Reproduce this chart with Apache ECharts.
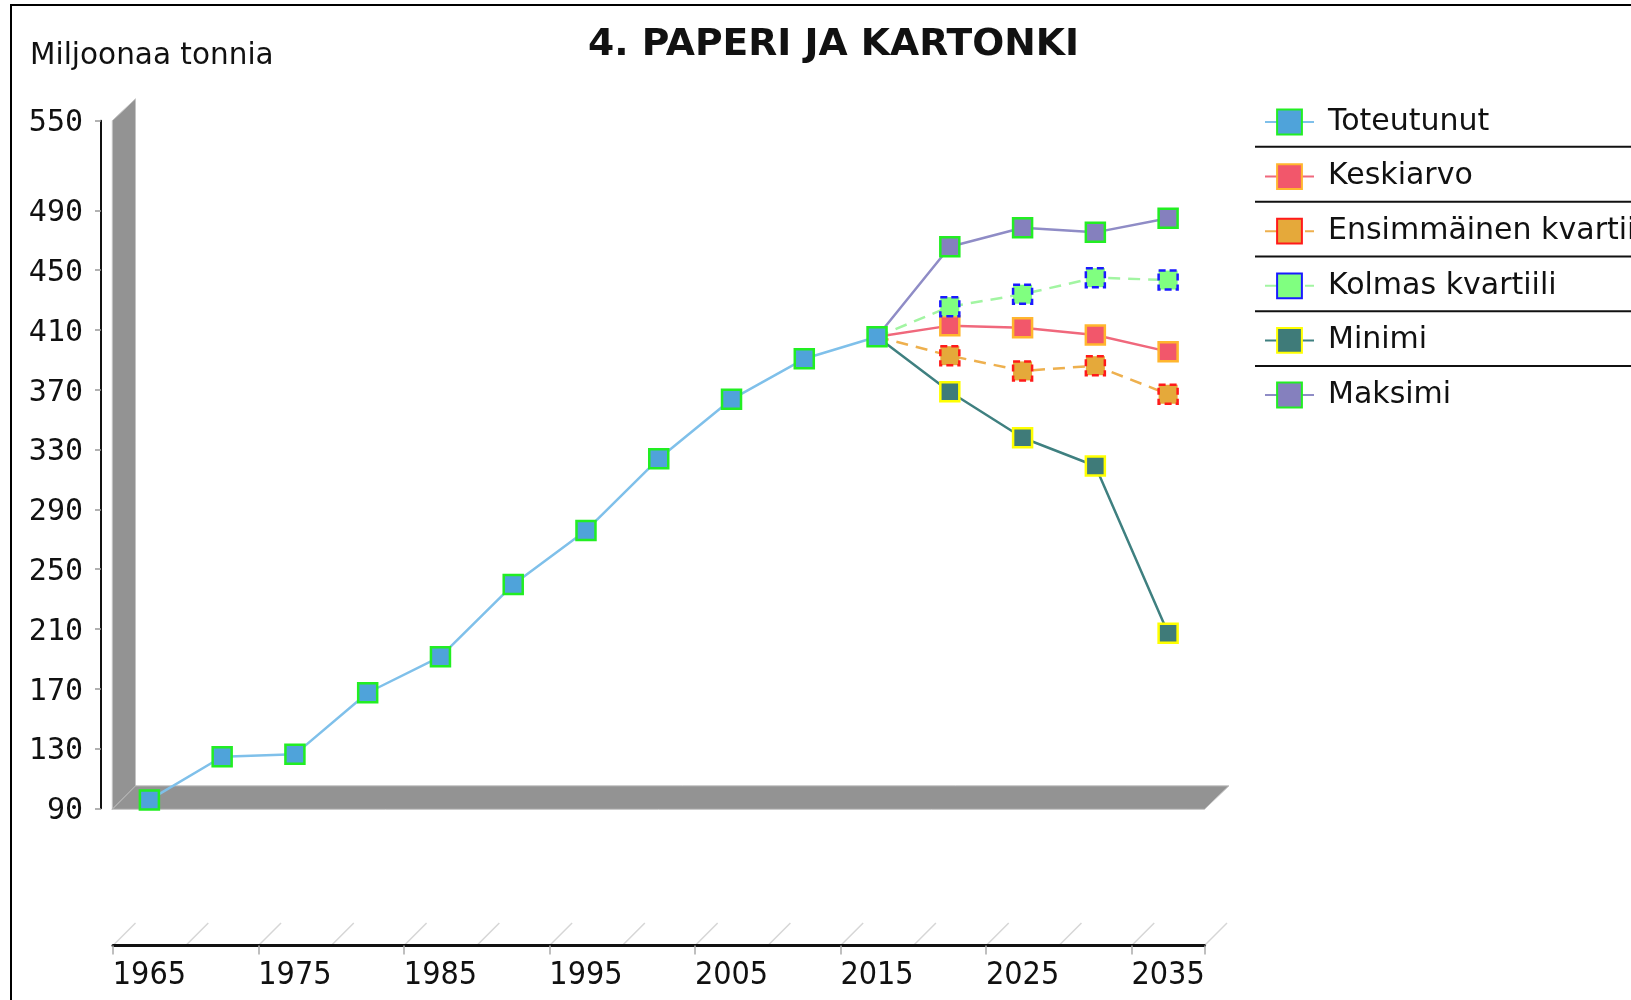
<!DOCTYPE html>
<html>
<head>
<meta charset="utf-8">
<title>4. PAPERI JA KARTONKI</title>
<script src="https://cdn.jsdelivr.net/npm/echarts@6/dist/echarts.min.js"></script>
<style>
  html, body { margin: 0; padding: 0; background: #fff; }
  #chart { width: 1631px; height: 1000px; }
</style>
</head>
<body>
<div id="chart"></div>
<script>
  // categories on the x axis
  const years = ['1965', '1970', '1975', '1980', '1985', '1990', '1995', '2000',
    '2005', '2010', '2015', '2020', '2025', '2030', '2035']
  // toteutunut 1965..2015
  const toteutunut = [95.6, 124.5, 126.1, 167.3, 191.4, 239.7, 275.8, 323.9, 363.6, 390.7, 405.5]
  // projections 2020..2035
  const keskiarvo = [412.9, 411.5, 406.6, 395.5]
  const ensimmainen = [392.8, 382.6, 386.1, 367.0]
  const kolmas = [425.6, 433.9, 445.0, 443.4]
  const minimi = [368.7, 337.9, 319.0, 207.1]
  const maksimi = [465.7, 478.4, 475.3, 484.7]
  // y axis ticks shown
  const yTicks = [90, 130, 170, 210, 250, 290, 330, 370, 410, 450, 490, 550]

  const seriesNames = ['Toteutunut', 'Keskiarvo', 'Ensimmäinen kvartiili', 'Kolmas kvartiili', 'Minimi', 'Maksimi']

  // layout
  const gLeft = 113
  const gRight = 1204.5
  const gTop = 120.7
  const gBottom = 808.3
  const depth = 22.5
  const xAxisY = 945.5
  const band = (gRight - gLeft) / years.length

  const chart = echarts.init(document.getElementById('chart'), null, { renderer: 'canvas' })

  // projection series start from the last observed point
  function projection(values) {
    const data = []
    for (let i = 0; i < toteutunut.length - 1; i++) data.push(null)
    data.push({ value: toteutunut[toteutunut.length - 1], symbol: 'none' })
    values.forEach(v => data.push(v))
    return data
  }

  function lineSeries(name, data, fill, border, lineColor, dashed, z) {
    return {
      name: name,
      type: 'line',
      data: data,
      symbol: 'rect',
      symbolSize: 19,
      z: z,
      itemStyle: {
        color: fill,
        borderColor: border,
        borderWidth: 2.5,
        borderType: dashed ? [7, 4] : 'solid'
      },
      lineStyle: {
        color: lineColor,
        width: 2.5,
        type: dashed ? [12, 8] : 'solid'
      },
      emphasis: { disabled: true },
      animation: false
    }
  }

  // decorations: 3D wall, floor, category axis depth lines, legend separators
  const deco = []
  deco.push({
    type: 'rect',
    shape: { x: 11, y: 5, width: 1640, height: 1010 },
    style: { fill: 'none', stroke: '#000', lineWidth: 2 }
  })
  deco.push({
    type: 'polygon',
    shape: { points: [[gLeft - 0.7, gTop], [gLeft + depth, gTop - depth + 0.6], [gLeft + depth, gBottom - depth], [gLeft - 0.7, gBottom + 1]] },
    style: { fill: '#939393', stroke: '#c4c4c4', lineWidth: 1 }
  })
  deco.push({
    type: 'polygon',
    shape: { points: [[gLeft - 0.7, gBottom + 1], [gLeft + depth, gBottom - depth], [gRight + depth + 2, gBottom - depth], [gRight, gBottom + 1]] },
    style: { fill: '#939393', stroke: '#c4c4c4', lineWidth: 1 }
  })
  deco.push({
    type: 'line',
    shape: { x1: gLeft - 0.7, y1: gBottom + 1, x2: gLeft + depth, y2: gBottom - depth },
    style: { stroke: '#a8a8a8', lineWidth: 1 }
  })
  for (let i = 0; i <= years.length; i++) {
    const x = gLeft + i * band
    deco.push({
      type: 'line',
      shape: { x1: x, y1: xAxisY, x2: x + depth, y2: xAxisY - depth },
      style: { stroke: '#d6d6d6', lineWidth: 1.5 }
    })
  }
  const sepY = [146.7, 201.8, 256.5, 311.3, 366]
  sepY.forEach(y => {
    deco.push({
      type: 'line',
      shape: { x1: 1255, y1: y, x2: 1640, y2: y },
      style: { stroke: '#111', lineWidth: 2 }
    })
  })

  chart.setOption({
    backgroundColor: '#fff',
    animation: false,
    title: [
      {
        text: '4. PAPERI JA KARTONKI',
        left: 583,
        top: 21,
        textStyle: { fontFamily: 'DejaVu Sans', fontWeight: 'bold', fontSize: 37.7, color: '#111' }
      },
      {
        text: 'Miljoonaa tonnia',
        left: 25,
        top: 36,
        textStyle: { fontFamily: 'DejaVu Sans', fontWeight: 'normal', fontSize: 29.5, color: '#111' }
      }
    ],
    legend: {
      orient: 'vertical',
      left: 1259,
      top: 101.5,
      itemWidth: 49,
      itemHeight: 31,
      itemGap: 23.6,
      selectedMode: false,
      data: seriesNames,
      textStyle: {
        fontFamily: 'DejaVu Sans',
        fontSize: 30,
        color: '#111',
        lineHeight: 31,
        padding: [0, 0, 0, 9]
      }
    },
    grid: {
      left: gLeft,
      right: 1631 - gRight,
      top: gTop,
      bottom: 1000 - gBottom
    },
    xAxis: {
      type: 'category',
      data: years,
      boundaryGap: true,
      offset: xAxisY - gBottom,
      axisLine: { lineStyle: { color: '#111', width: 3 } },
      axisTick: { show: true, length: 9, lineStyle: { color: '#aaa', width: 1.5 } },
      axisLabel: {
        interval: 1,
        margin: 14,
        fontFamily: 'DejaVu Sans Condensed',
        fontSize: 32,
        color: '#111'
      },
      splitLine: { show: false }
    },
    yAxis: {
      type: 'value',
      min: 90,
      max: 550,
      interval: 40,
      offset: gLeft - 101,
      axisLine: { show: true, lineStyle: { color: '#111', width: 2 } },
      axisTick: { show: true, length: 6, customValues: yTicks, lineStyle: { color: '#999', width: 1.5 } },
      axisLabel: {
        customValues: yTicks,
        margin: 18,
        formatter: '{v|{value}}',
        rich: {
          v: {
            fontFamily: 'DejaVu Sans Mono',
            fontSize: 30,
            color: '#111',
            padding: [6, 0, 0, 0]
          }
        }
      },
      splitLine: { show: false }
    },
    graphic: deco,
    series: [
      lineSeries('Toteutunut', toteutunut, '#4fa3da', '#22ee22', '#7fc0ea', false, 10),
      lineSeries('Keskiarvo', projection(keskiarvo), '#f2576b', '#ffb62e', '#f0687c', false, 5),
      lineSeries('Ensimmäinen kvartiili', projection(ensimmainen), '#e5a93a', '#ff1a1a', '#eeb04e', true, 5),
      lineSeries('Kolmas kvartiili', projection(kolmas), '#80ff80', '#1a1aff', '#a2f5a2', true, 5),
      lineSeries('Minimi', projection(minimi), '#3f7b79', '#ffff00', '#3f8080', false, 5),
      lineSeries('Maksimi', projection(maksimi), '#8580be', '#22ee22', '#8f8cc6', false, 5)
    ]
  })
</script>
</body>
</html>
